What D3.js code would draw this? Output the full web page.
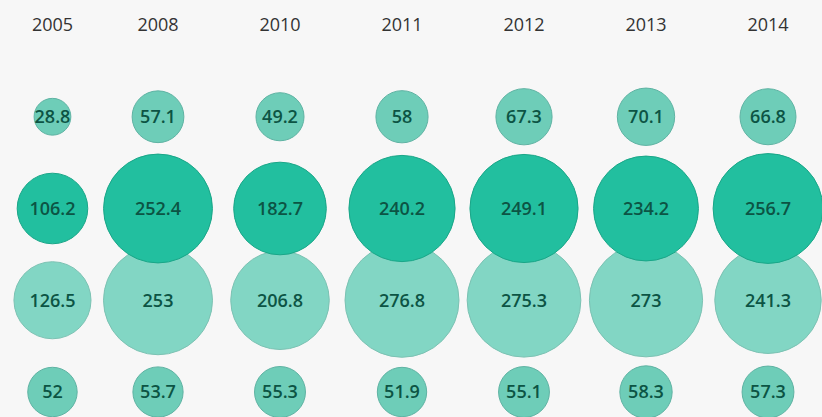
<!DOCTYPE html>
<html>
<head>
<meta charset="utf-8">
<script src="https://cdn.jsdelivr.net/npm/d3@7"></script>
<style>
  html, body { margin: 0; padding: 0; background: #f7f7f7; }
  svg { display: block; }
</style>
</head>
<body>
<svg id="chart" width="822" height="417"></svg>
<script>
// ---- data ----
const years = ["2005", "2008", "2010", "2011", "2012", "2013", "2014"];
const row1 = [28.8, 57.1, 49.2, 58, 67.3, 70.1, 66.8];
const row2 = [106.2, 252.4, 182.7, 240.2, 249.1, 234.2, 256.7];
const row3 = [126.5, 253, 206.8, 276.8, 275.3, 273, 241.3];
const row4 = [52, 53.7, 55.3, 51.9, 55.1, 58.3, 57.3];
const rowNames = ["row1", "row2", "row3", "row4"];
const rowValues = { row1, row2, row3, row4 };

// ---- layout ----
const W = 822, H = 417;
const svg = d3.select("#chart");
svg.append("rect").attr("width", W).attr("height", H).attr("fill", "#f7f7f7");

const allVals = [].concat(row1, row2, row3, row4);
const r = d3.scaleSqrt().domain([0, d3.max(allVals)]).range([0, 57]);

// columns after the first are evenly spaced; the first column is packed by its own size
const xMain = d3.scalePoint().domain(years.slice(1)).range([158, 768]);
const firstMax = d3.max(rowNames, k => rowValues[k][0]);
const x0 = xMain(years[1]) - (r(firstMax) + r(d3.max(allVals)) + 10);
const x = yr => (yr === years[0] ? x0 : xMain(yr));

const y = d3.scalePoint().domain(["year"].concat(rowNames)).range([25, 392]);

const fills = { row1: "#6ecdb8", row2: "#22bf9f", row3: "#82d6c4", row4: "#6ecdb8" };
const strokes = { row1: "#5fb3a3", row2: "#1aa688", row3: "#7cc2b3", row4: "#5fb3a3" };

// year labels
svg.append("g").selectAll("text").data(years).join("text")
  .attr("x", d => x(d))
  .attr("y", y("year"))
  .attr("dy", "0.35em")
  .attr("text-anchor", "middle")
  .attr("font-family", "'Open Sans', sans-serif")
  .attr("font-size", 18)
  .attr("fill", "#333")
  .text(d => d);

// drawing order: light row beneath the dark row
const drawOrder = ["row1", "row3", "row2", "row4"];
drawOrder.forEach(k => {
  const data = years.map((yr, i) => ({ yr, v: rowValues[k][i] }));
  const g = svg.append("g");
  g.selectAll("circle").data(data).join("circle")
    .attr("cx", d => x(d.yr))
    .attr("cy", y(k))
    .attr("r", d => r(d.v))
    .attr("fill", fills[k])
    .attr("stroke", strokes[k])
    .attr("stroke-width", 1);
  g.selectAll("text").data(data).join("text")
    .attr("x", d => x(d.yr))
    .attr("y", y(k))
    .attr("dy", "0.35em")
    .attr("text-anchor", "middle")
    .attr("font-family", "'Open Sans', sans-serif")
    .attr("font-size", 18)
    .attr("font-weight", 600)
    .attr("fill", "#0c5444")
    .text(d => d.v);
});
</script>
</body>
</html>
